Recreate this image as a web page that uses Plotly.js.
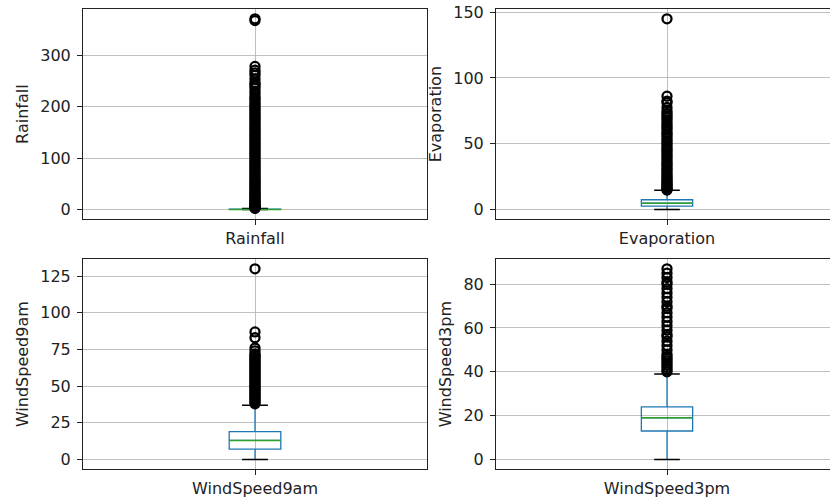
<!DOCTYPE html>
<html>
<head>
<meta charset="utf-8">
<script src="https://cdn.plot.ly/plotly-3.0.1.min.js"></script>
<style>
  html, body { margin: 0; padding: 0; overflow: hidden; background: #fff; }
  #chart { width: 850px; height: 500px; }
</style>
</head>
<body>
<div id="chart"></div>
<script>
// ---- data ----
const variables = ["Rainfall", "Evaporation", "WindSpeed9am", "WindSpeed3pm"];

const lowerFence = [0, 0, 0, 0];
const q1Values = [0, 2.6, 7, 13];
const medianValues = [0, 4.8, 13, 19];
const q3Values = [0.8, 7.4, 19, 24];
const upperFence = [2.0, 14.6, 37, 39];

const rainfallOutliers = [2.2, 2.8, 3.4, 4, 5, 6, 7.2, 8.4, 10, 12, 14, 16.2, 18.4, 21, 23.6, 26, 28.4, 31, 34, 37,
  40, 43, 46, 49.2, 52, 55, 58, 61.4, 64.6, 68, 71, 74.4, 78, 81.2, 84.6, 88, 91.6, 95, 98.4, 102,
  105.6, 109, 112.4, 116, 119.6, 123, 126.8, 130, 134, 137.6, 141, 144.8, 148, 152, 155.6, 159, 163,
  166.4, 170, 174, 177.6, 181, 185, 188.8, 192.4, 196, 200, 204, 207, 212, 216, 219.6, 225, 230, 236,
  240.4, 244, 247.2, 254, 261, 266, 271, 278.4, 367.6, 371];
const evaporationOutliers = [14.8, 15.4, 16, 17, 18, 19, 20, 21.2, 22.4, 23.6, 25, 26.4, 28, 29.6, 31, 32.6, 34,
  35.6, 37.2, 39, 40.6, 42.2, 44, 45.6, 47.2, 49, 50.6, 52.2, 54, 55.8, 57.4, 59, 61, 62.6, 64.2, 66, 68,
  69.8, 71.4, 73, 74.8, 77.6, 81.2, 82.4, 86.2, 145];
const wind9amOutliers = [38, 39, 40, 41, 42, 43, 44, 45, 46, 47, 48, 49, 50, 51, 52, 53, 54, 55, 56, 57, 58, 59, 60,
  61, 62, 63, 64, 65, 66, 67, 68, 69, 70, 71, 72, 74, 76, 83, 87, 130];
const wind3pmOutliers = [40, 41, 42, 43, 44, 45, 46, 47, 48, 50, 52, 54, 56, 57, 59, 61, 63, 65, 67, 69, 70, 72, 74,
  76, 78, 80, 81, 83, 85, 87];
const outliers = [rainfallOutliers, evaporationOutliers, wind9amOutliers, wind3pmOutliers];

const yTickSteps = [100, 50, 25, 20];

// ---- styling ----
const FONT = "DejaVu Sans";
const TXT = "#222";
const BOX_COLOR = "#1f77b4";
const MED_COLOR = "#2ca02c";
const BOX_W = 0.15;

const traces = [];
const layout = {
  width: 850, height: 500,
  margin: {l: 0, r: 0, t: 0, b: 0},
  paper_bgcolor: "#fff", plot_bgcolor: "#fff",
  showlegend: false,
  font: {family: FONT, size: 16, color: TXT}
};

const xDomains = [[83/850, 427/850], [496/850, 838/850], [83/850, 427/850], [496/850, 838/850]];
const yDomains = [[281/500, 490.7/500], [281/500, 490.7/500], [31/500, 240.7/500], [31/500, 240.7/500]];

variables.forEach((name, i) => {
  const k = i + 1;
  const xa = "x" + (k === 1 ? "" : k), ya = "y" + (k === 1 ? "" : k);
  // box + whiskers
  traces.push({
    type: "box", xaxis: xa, yaxis: ya,
    x: [1], q1: [q1Values[i]], median: [medianValues[i]], q3: [q3Values[i]],
    lowerfence: [lowerFence[i]], upperfence: [upperFence[i]],
    boxpoints: false, whiskerwidth: 0, width: BOX_W,
    line: {color: BOX_COLOR, width: 1.3}, fillcolor: "rgba(0,0,0,0)",
    hoverinfo: "skip"
  });
  // caps (black)
  traces.push({
    type: "scatter", mode: "markers", xaxis: xa, yaxis: ya,
    x: [1, 1], y: [lowerFence[i], upperFence[i]],
    marker: {size: 1, color: "rgba(0,0,0,0)"},
    error_x: {type: "constant", value: BOX_W / 4, width: 0, color: "#000", thickness: 1.4},
    hoverinfo: "skip"
  });
  // median (green)
  traces.push({
    type: "scatter", mode: "markers", xaxis: xa, yaxis: ya,
    x: [1], y: [medianValues[i]],
    marker: {size: 1, color: "rgba(0,0,0,0)"},
    error_x: {type: "constant", value: BOX_W / 2, width: 0, color: MED_COLOR, thickness: 1.5},
    hoverinfo: "skip"
  });
  // fliers
  traces.push({
    type: "scatter", mode: "markers", xaxis: xa, yaxis: ya,
    x: outliers[i].map(() => 1), y: outliers[i],
    marker: {symbol: "circle-open", size: 9, color: "#000", line: {width: 2.3}},
    hoverinfo: "skip"
  });

  const all = outliers[i].concat([lowerFence[i]]);
  const lo = Math.min(...all), hi = Math.max(...all);
  const pad = (hi - lo) * 0.05;

  layout["xaxis" + (k === 1 ? "" : k)] = {
    domain: xDomains[i], anchor: ya, range: [0.5, 1.5],
    tickmode: "array", tickvals: [1], ticktext: [name],
    showgrid: true, gridcolor: "#b0b0b0", gridwidth: 0.8,
    zeroline: false, showline: true, mirror: true, linecolor: "#222", linewidth: 1,
    ticks: "outside", ticklen: 5, tickcolor: "#222", tickwidth: 1,
    ticklabelstandoff: 0,
    tickfont: {family: FONT, size: 16, color: TXT}
  };
  layout["yaxis" + (k === 1 ? "" : k)] = {
    domain: yDomains[i], anchor: xa, range: [lo - pad, hi + pad],
    dtick: yTickSteps[i], tick0: 0,
    showgrid: true, gridcolor: "#b0b0b0", gridwidth: 0.8,
    zeroline: false, showline: true, mirror: true, linecolor: "#222", linewidth: 1,
    ticks: "outside", ticklen: 5, tickcolor: "#222", tickwidth: 1,
    ticklabelstandoff: 3,
    tickfont: {family: FONT, size: 16, color: TXT},
    title: {text: name, font: {family: FONT, size: 16, color: TXT}, standoff: 7}
  };
});

Plotly.newPlot("chart", traces, layout, {displayModeBar: false, staticPlot: true});
</script>
</body>
</html>
